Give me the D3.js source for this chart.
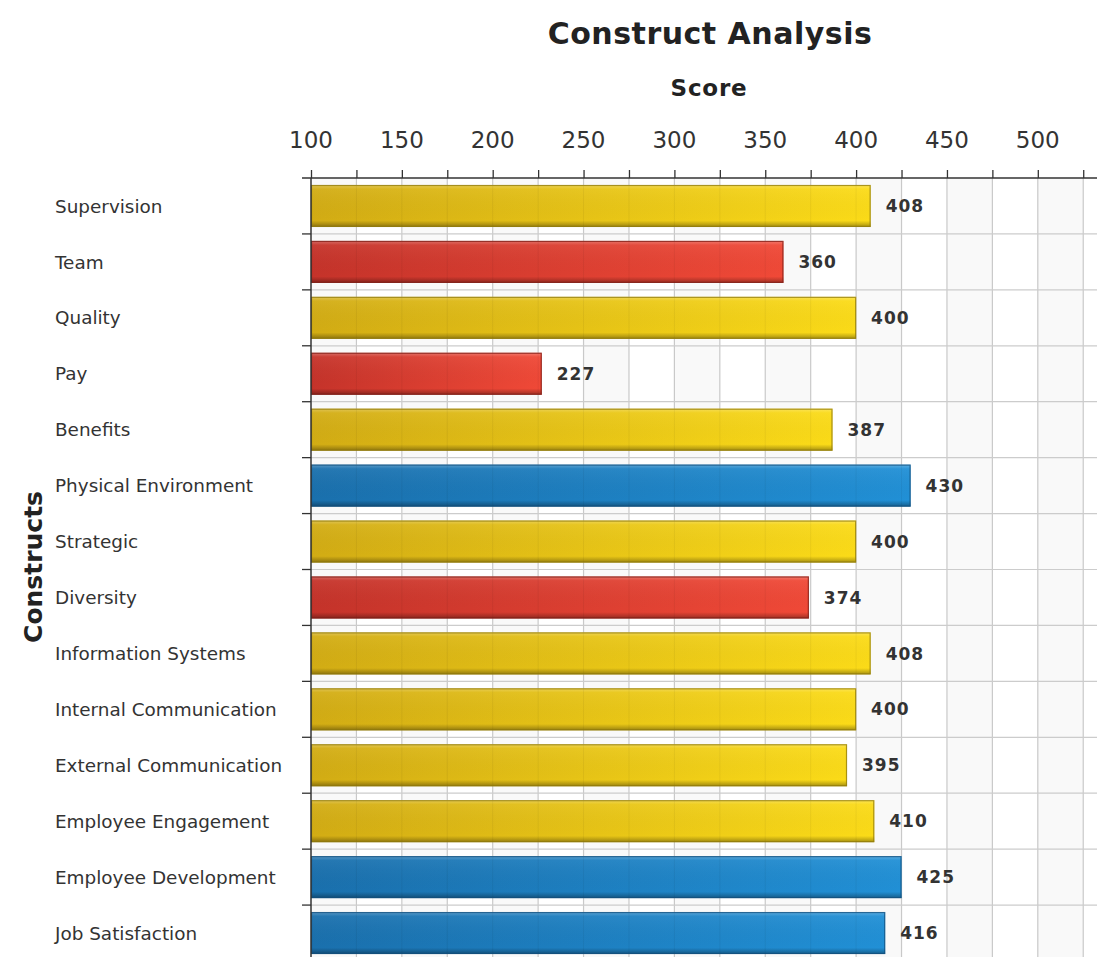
<!DOCTYPE html>
<html>
<head>
<meta charset="utf-8">
<script src="https://cdn.jsdelivr.net/npm/d3@7"></script>
<style>
  html, body { margin: 0; padding: 0; background: #ffffff; }
  svg { display: block; }
</style>
</head>
<body>
<svg id="chart" width="1097" height="957"></svg>
<script>
// ---- data ----
const categories = ["Supervision", "Team", "Quality", "Pay", "Benefits", "Physical Environment",
  "Strategic", "Diversity", "Information Systems", "Internal Communication",
  "External Communication", "Employee Engagement", "Employee Development", "Job Satisfaction"];
const scores = [408, 360, 400, 227, 387, 430, 400, 374, 408, 400, 395, 410, 425, 416];
const status = ["mid", "low", "mid", "low", "mid", "high", "mid", "low", "mid", "mid", "mid", "mid", "high", "high"];
const tickValues = [100, 150, 200, 250, 300, 350, 400, 450, 500];
const titleText = "Construct Analysis";
const xTitle = "Score";
const yTitle = "Constructs";

// ---- layout ----
const W = 1097, H = 957;
const plot = { left: 311, top: 178, bottom: 961 };
const svg = d3.select("#chart");

const x = d3.scaleLinear().domain([100, 535]).range([plot.left, plot.left + 435 * 1.817]);
const y = d3.scaleBand().domain(categories).range([plot.top, plot.bottom])
  .paddingInner(0.25).paddingOuter(0.125);
const step = y.step();

const palette = {
  mid:  { a: "#d2ac14", b: "#fbdb18", stroke: "#8f7a0c" },
  low:  { a: "#c5332a", b: "#f04937", stroke: "#7e1d16" },
  high: { a: "#1a70ad", b: "#2190d6", stroke: "#134f7c" }
};

const defs = svg.append("defs");
Object.entries(palette).forEach(([k, c]) => {
  const g = defs.append("linearGradient").attr("id", "grad-" + k)
    .attr("x1", "0%").attr("x2", "100%").attr("y1", "0%").attr("y2", "0%");
  g.append("stop").attr("offset", "0%").attr("stop-color", c.a);
  g.append("stop").attr("offset", "100%").attr("stop-color", c.b);
});
const shade = defs.append("linearGradient").attr("id", "shade")
  .attr("x1", "0%").attr("x2", "0%").attr("y1", "0%").attr("y2", "100%");
shade.append("stop").attr("offset", "0%").attr("stop-color", "#ffffff").attr("stop-opacity", 0.28);
shade.append("stop").attr("offset", "10%").attr("stop-color", "#ffffff").attr("stop-opacity", 0.05);
shade.append("stop").attr("offset", "85%").attr("stop-color", "#000000").attr("stop-opacity", 0.0);
shade.append("stop").attr("offset", "93%").attr("stop-color", "#000000").attr("stop-opacity", 0.18);
shade.append("stop").attr("offset", "100%").attr("stop-color", "#000000").attr("stop-opacity", 0.35);

// ---- background bands ----
const bandStarts = d3.range(100, 535, 50);
svg.append("g").selectAll("rect").data(bandStarts).join("rect")
  .attr("x", d => x(d)).attr("y", plot.top)
  .attr("width", d => x(d + 25) - x(d)).attr("height", plot.bottom - plot.top)
  .attr("fill", "#f9f9f9");

// ---- grid ----
const gridVals = d3.range(125, 535, 25);
const grid = svg.append("g");
grid.selectAll("line.v").data(gridVals).join("line").attr("class", "v")
  .attr("x1", d => x(d)).attr("x2", d => x(d))
  .attr("y1", plot.top).attr("y2", plot.bottom)
  .attr("stroke", "#c9c9c9").attr("stroke-width", 1.2);
const rowEdges = d3.range(1, categories.length + 1).map(i => plot.top + i * step);
grid.selectAll("line.h").data(rowEdges).join("line").attr("class", "h")
  .attr("x1", plot.left).attr("x2", W)
  .attr("y1", d => d).attr("y2", d => d)
  .attr("stroke", "#cccccc").attr("stroke-width", 1.2);

// ---- bars ----
const bars = svg.append("g");
categories.forEach((c, i) => {
  const s = status[i], col = palette[s];
  const bx = x(100), bw = x(scores[i]) - x(100), by = y(c), bh = y.bandwidth();
  bars.append("rect").attr("x", bx).attr("y", by).attr("width", bw).attr("height", bh)
    .attr("fill", "url(#grad-" + s + ")");
  bars.append("rect").attr("x", bx).attr("y", by).attr("width", bw).attr("height", bh)
    .attr("fill", "url(#shade)");
  bars.append("rect").attr("x", bx + 0.5).attr("y", by + 0.5).attr("width", bw - 1).attr("height", bh - 1)
    .attr("fill", "none").attr("stroke", col.stroke).attr("stroke-opacity", 0.75).attr("stroke-width", 1.2);
  bars.selectAll(null).data(gridVals.filter(v => v < scores[i])).join("line")
    .attr("x1", v => x(v)).attr("x2", v => x(v)).attr("y1", by + 1).attr("y2", by + bh - 1)
    .attr("stroke", "#000").attr("stroke-opacity", 0.05);
  bars.append("text").attr("x", x(scores[i]) + 15).attr("y", by + bh / 2)
    .attr("dy", "0.36em")
    .attr("font-family", "DejaVu Sans, Verdana, sans-serif").attr("font-weight", "bold")
    .attr("font-size", 17).attr("letter-spacing", 1).attr("fill", "#333")
    .text(scores[i]);
});

// ---- axes ----
const xAxis = svg.append("g").attr("transform", `translate(0,${plot.top})`)
  .call(d3.axisTop(x).tickValues(d3.range(100, 535, 25)).tickSize(8).tickFormat(""));
xAxis.select(".domain").remove();
xAxis.selectAll(".tick line").attr("stroke", "#333").attr("stroke-width", 1.3);
svg.append("line").attr("x1", plot.left - 9).attr("x2", W).attr("y1", plot.top).attr("y2", plot.top)
  .attr("stroke", "#333").attr("stroke-width", 1.5);

svg.append("g").selectAll("text").data(tickValues).join("text")
  .attr("x", d => x(d)).attr("y", 148).attr("text-anchor", "middle")
  .attr("font-family", "DejaVu Sans, Verdana, sans-serif").attr("font-size", 23)
  .attr("fill", "#333").text(d => d);

svg.append("line").attr("x1", plot.left).attr("x2", plot.left).attr("y1", plot.top).attr("y2", H)
  .attr("stroke", "#333").attr("stroke-width", 1.5);
svg.append("g").selectAll("line").data(rowEdges).join("line")
  .attr("x1", plot.left - 9).attr("x2", plot.left).attr("y1", d => d).attr("y2", d => d)
  .attr("stroke", "#333").attr("stroke-width", 1.3);

svg.append("g").selectAll("text").data(categories).join("text")
  .attr("x", 55).attr("y", d => y(d) + y.bandwidth() / 2).attr("dy", "0.36em")
  .attr("font-family", "DejaVu Sans, Verdana, sans-serif").attr("font-size", 18.4)
  .attr("fill", "#333").text(d => d);

// ---- titles ----
svg.append("text").attr("x", 710).attr("y", 44).attr("text-anchor", "middle")
  .attr("font-family", "DejaVu Sans, Verdana, sans-serif").attr("font-weight", "bold")
  .attr("font-size", 30).attr("letter-spacing", 0.5).attr("fill", "#222").text(titleText);
svg.append("text").attr("x", 709).attr("y", 96).attr("text-anchor", "middle")
  .attr("font-family", "DejaVu Sans, Verdana, sans-serif").attr("font-weight", "bold")
  .attr("font-size", 23).attr("letter-spacing", 0.8).attr("fill", "#222").text(xTitle);
svg.append("text").attr("transform", "translate(42,567) rotate(-90)").attr("text-anchor", "middle")
  .attr("font-family", "DejaVu Sans, Verdana, sans-serif").attr("font-weight", "bold")
  .attr("font-size", 25).attr("fill", "#222").text(yTitle);
</script>
</body>
</html>
